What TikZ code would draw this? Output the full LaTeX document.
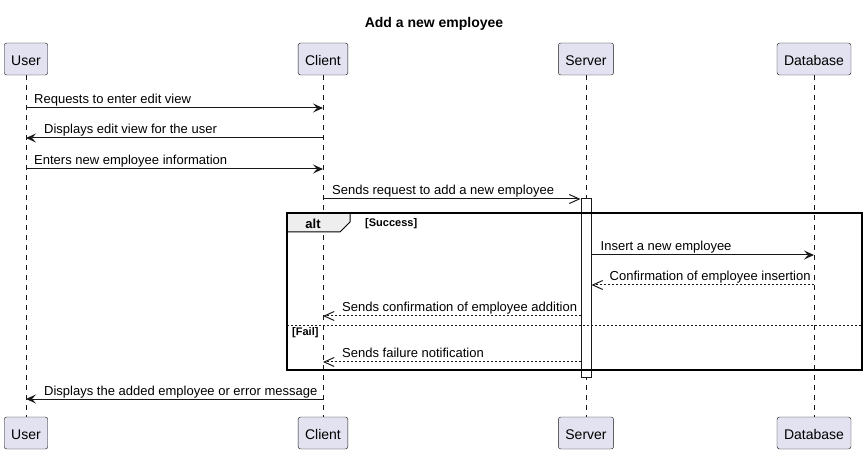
\documentclass[tikz,border=0pt]{standalone}
\usepackage{fontspec}
\setmainfont{Liberation Sans}
\usetikzlibrary{arrows.meta,calc}
\definecolor{partfill}{HTML}{E2E2F0}
\definecolor{ink}{HTML}{181818}
\definecolor{tabfill}{HTML}{EEEEEE}

\begin{document}
\begin{tikzpicture}[x=1bp,y=-1bp,
		part/.style={draw=ink,fill=partfill,rounded corners=2.5bp,minimum height=32bp,inner xsep=7bp,
			text height=13bp,text depth=0bp,font=\fontsize{14bp}{16bp}\selectfont},
		life/.style={ink,line width=0.5bp,dash pattern=on 5bp off 5bp},
		msg/.style={ink,line width=1bp},
		fullhead/.style={-{Stealth[length=10bp,width=9bp,inset=4bp]}},
		openhead/.style={-{Straight Barb[length=10bp,width=9bp]}},
		retmsg/.style={openhead,dash pattern=on 2bp off 2bp},
		lbl/.style={anchor=base west,inner sep=0pt,font=\fontsize{13bp}{15bp}\selectfont},
		guard/.style={anchor=base west,inner sep=0pt,font=\bfseries\fontsize{11bp}{13bp}\selectfont}]
			\useasboundingbox (0,0) rectangle (868,453);
			\node[anchor=base,font=\bfseries\fontsize{14bp}{16bp}\selectfont] (title) at (434,28) {Add a new employee};
			% participants, top and bottom, with lifelines
			\foreach \n/\t/\x in {user/User/26,client/Client/323,server/Server/586,db/Database/814}{
				\node[part] (\n T) at (\x,59) {\t};
				\node[part] (\n B) at (\x,433) {\t};
				\draw[life] (\n T) -- (\n B);
			}
			\node[draw=ink,fill=white,line width=1bp,minimum width=10bp,minimum height=178bp,inner sep=0pt] (act) at (586,288) {};
			% alt frame
			\draw[fill=tabfill,line width=1bp] (287,213) -- (350,213) -- (350,222) -- (340,232) -- (287,232) -- cycle;
			\draw[line width=1.5bp] (287,213) rectangle (862,370);
			\draw[ink,dash pattern=on 2bp off 2bp] (287,325) -- (862,325);
			\node[anchor=base,inner sep=0pt,font=\bfseries\fontsize{13bp}{15bp}\selectfont] (alt) at (313,229) {alt};
			\node[guard] (ok) at (365,227) {[Success]};
			\node[guard] (fail) at (292,336) {[Fail]};
			% messages
			\foreach \y/\a/\b/\s/\l/\dx/\t in {
				108/userT/clientT/fullhead/userT/8/Requests to enter edit view,
				138/clientT/userT/fullhead/userT/18/Displays edit view for the user,
				169/userT/clientT/fullhead/userT/8/Enters new employee information,
				199/clientT/act.west/openhead/clientT/9/Sends request to add a new employee,
				255/act.east/dbT/fullhead/act.east/9/Insert a new employee,
				285/dbT/act.east/retmsg/act.east/18/Confirmation of employee insertion,
				316/act.west/clientT/retmsg/clientT/19/Sends confirmation of employee addition,
				362/act.west/clientT/retmsg/clientT/19/Sends failure notification,
				399/clientT/userT/fullhead/userT/18/Displays the added employee or error message}{
				\draw[msg,\s] (\a |- 0,\y) -- (\b |- 0,\y);
				\node[lbl] (m\y) at ($(\l |- 0,\y)+(\dx,-4)$) {\t};
			}
		\end{tikzpicture}
\end{document}
